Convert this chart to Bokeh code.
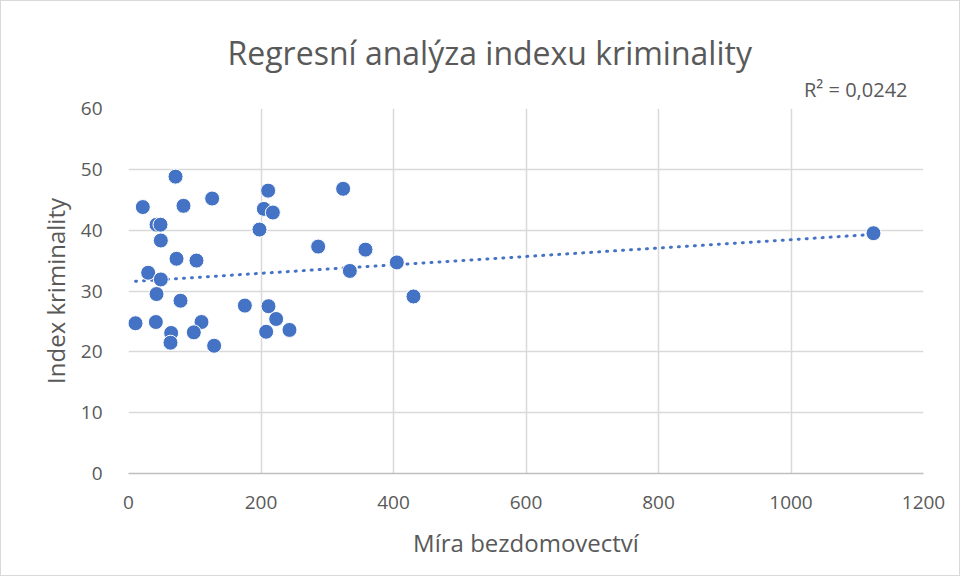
import numpy as np
from bokeh.plotting import figure
from bokeh.models import Title, FixedTicker, Range1d
from bokeh.embed import file_html
from bokeh.resources import INLINE

# Data: homelessness rate (x) vs crime index (y)
mira_bezdomovectvi = [71, 21.6, 83, 126.3, 210.8, 204.3, 217.9, 197.7, 42.3, 48.3,
                      48.8, 72.5, 102.6, 29.7, 48.8, 42.3, 78.5, 175.6, 211.3, 222.9,
                      243, 207.8, 10.6, 41.3, 110.2, 98.6, 64.4, 63.4, 129.3,
                      324, 286.3, 357.7, 405, 334.1, 430.2, 1124.5]
index_kriminality = [48.8, 43.8, 44.0, 45.2, 46.5, 43.5, 42.9, 40.1, 40.9, 40.9,
                     38.3, 35.3, 35.0, 33.0, 31.9, 29.5, 28.4, 27.6, 27.5, 25.4,
                     23.6, 23.3, 24.7, 24.9, 24.9, 23.2, 23.1, 21.5, 21.0,
                     46.8, 37.3, 36.8, 34.7, 33.3, 29.1, 39.5]
# linear trendline as drawn in the chart (end values)
trend_x = [10.6, 1124.5]
trend_y = [31.6, 39.3]
x_ticks = [0, 200, 400, 600, 800, 1000, 1200]
y_ticks = [0, 10, 20, 30, 40, 50, 60]
title_text = "Regresní analýza indexu kriminality"
x_label = "Míra bezdomovectví"
y_label = "Index kriminality"
r2_text = "R² = 0,0242"

FONT = "Open Sans"
TXT = "#595959"
BLUE = "#4472C4"
GRID = "#d9d9d9"

W, H = 960, 576
p = figure(width=W, height=H, output_backend="svg", toolbar_location=None,
           x_range=Range1d(0, 1200), y_range=Range1d(0, 60),
           min_border_left=127, min_border_right=W - 127 - 795,
           min_border_top=107, min_border_bottom=H - 107 - 365)
p.styles = {"border": "1px solid #d9d9d9"}
p.outline_line_color = None
p.background_fill_color = "white"
p.border_fill_color = "white"

# main title (outermost in the stack above the frame)
p.title.text = title_text
p.title.align = "left"
p.title.offset = 99
p.title.standoff = -11
p.title.text_font = FONT
p.title.text_font_size = "32px"
p.title.text_font_style = "normal"
p.title.text_color = TXT

# R² text directly above the plot frame, right aligned
p.add_layout(Title(text=r2_text, align="right", offset=16, standoff=11,
                   text_font=FONT, text_font_size="20px", text_font_style="normal",
                   text_color=TXT), "above")

p.xaxis.ticker = FixedTicker(ticks=x_ticks)
p.yaxis.ticker = FixedTicker(ticks=y_ticks)
for ax in (p.xaxis, p.yaxis):
    ax.major_tick_line_color = None
    ax.minor_tick_line_color = None
    ax.major_label_text_font = FONT
    ax.major_label_text_font_size = "19px"
    ax.major_label_text_color = TXT
    ax.axis_label_text_font = FONT
    ax.axis_label_text_font_size = "24px"
    ax.axis_label_text_color = TXT
    ax.axis_label_text_font_style = "normal"
p.xaxis.axis_line_color = "#bfbfbf"
p.xaxis.axis_line_width = 1.5
p.yaxis.axis_line_color = None
p.xaxis.major_label_standoff = 16
p.yaxis.major_label_standoff = 20
p.xaxis.axis_label = x_label
p.yaxis.axis_label = y_label
p.xaxis.axis_label_standoff = 14
p.yaxis.axis_label_standoff = 6

p.xgrid.ticker = FixedTicker(ticks=x_ticks)
p.ygrid.ticker = FixedTicker(ticks=y_ticks)
p.grid.grid_line_color = GRID
p.grid.grid_line_width = 1.5

p.line(trend_x, trend_y, line_color=BLUE, line_width=3, line_dash="1 7", line_cap="round")

p.scatter(mira_bezdomovectvi, index_kriminality, size=15, fill_color=BLUE,
          line_color="white", line_width=1)

open("out.html", "w").write(file_html(p, INLINE))
